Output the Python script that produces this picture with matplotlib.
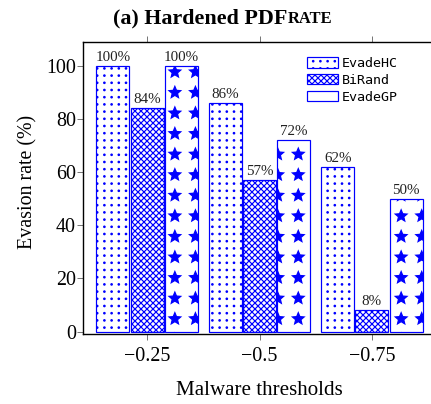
import matplotlib
matplotlib.use("Agg")
import matplotlib.pyplot as plt
import matplotlib.hatch as mhatch
from matplotlib.path import Path
import numpy as np

# data
thresholds = ["\u22120.25", "\u22120.5", "\u22120.75"]
evadehc = [100, 86, 62]
birand = [84, 57, 8]
evadegp = [100, 72, 50]
names = ["EvadeHC", "BiRand", "EvadeGP"]
hatches = [".", "x" * 8, "*"]

# 144 dpi so one hatch tile is 144 px
DPI = 144
W, H = 431, 404


# pgfplots-like hatches: dots and stars on a straight (not staggered) grid
class GridDots(mhatch.HatchPatternBase):
    char = '.'
    cells = 20
    radius = 0.005
    shape = Path.unit_circle()

    def __init__(self, hatch, density):
        self.n = self.cells if self.char in hatch else 0
        self.num_vertices = self.n * self.n * len(self.shape.vertices)

    def set_vertices_and_codes(self, vertices, codes):
        k = len(self.shape.vertices)
        pts = (np.arange(self.n) + 0.5) / self.n
        i = 0
        for cx in pts:
            for cy in pts:
                vertices[i:i + k] = self.shape.vertices * self.radius + (cx, cy)
                codes[i:i + k] = self.shape.codes
                i += k


class GridStars(GridDots):
    char = '*'
    cells = 7
    radius = 0.043
    shape = Path.unit_regular_star(5, 0.45)


mhatch._hatch_types = [GridDots if c is mhatch.SmallFilledCircles else
                       GridStars if c is mhatch.Stars else c
                       for c in mhatch._hatch_types]

plt.rcParams['font.family'] = ['Liberation Serif', 'DejaVu Serif']
plt.rcParams['hatch.color'] = 'blue'
plt.rcParams['hatch.linewidth'] = 0.6
plt.rcParams['axes.linewidth'] = 0.7

fig = plt.figure(figsize=(W / DPI, H / DPI), dpi=DPI)
ax = fig.add_axes([83 / W, 1 - 334 / H, (436 - 83) / W, (334 - 42) / H])

x = np.arange(len(thresholds))
bw = 0.293
step = 0.305
for i, (name, vals, hatch) in enumerate(zip(names, [evadehc, birand, evadegp], hatches)):
    bars = ax.bar(x + (i - 1) * step, vals, bw, facecolor='white', edgecolor='blue',
                  linewidth=0.6, hatch=hatch, label=name, zorder=2)
    for b, v in zip(bars, vals):
        ax.annotate(f"{v}%", (b.get_x() + b.get_width() / 2, v), xytext=(0, 1),
                    textcoords='offset points', ha='center', va='bottom',
                    fontsize=7.5, color='#222222')

ax.set_xlim(-0.57, 2.57)
ax.set_ylim(-0.9, 109)
ax.set_xticks(x)
ax.set_xticklabels(thresholds)
ax.set_yticks(range(0, 101, 20))
ax.tick_params(direction='out', length=3, width=0.4, color='#555555',
               labelsize=10, top=True, right=True, pad=3.5)
ax.tick_params(axis='y', pad=0.5)

ax.set_xlabel("Malware thresholds", fontsize=10.5)
ax.set_ylabel("Evasion rate (%)", fontsize=10)
ax.xaxis.set_label_coords(0.5, -0.16)
ax.yaxis.set_label_coords(-0.13, 0.52)

leg = ax.legend(loc='upper left', bbox_to_anchor=(307 / W, 1 - 57 / H),
                bbox_transform=fig.transFigure, frameon=False,
                prop={'family': 'DejaVu Sans Mono', 'size': 6.7},
                handlelength=2.33, handleheight=0.83, handletextpad=0.3,
                labelspacing=0.29, borderpad=0, borderaxespad=0)
# the star key is drawn empty in the reference
leg.legend_handles[2].set_hatch(None)

# title with a fake small-caps "RATE"
t1 = fig.text(113 / W, 1 - 23 / H, "(a) Hardened PDF", fontsize=11,
              fontweight='bold', ha='left', va='baseline')
fig.canvas.draw()
ext = t1.get_window_extent()
fig.text(ext.x1 / W, 1 - 23 / H, "RATE", fontsize=8.25, fontweight='bold',
         ha='left', va='baseline')

fig.savefig("out.png", dpi=DPI)
